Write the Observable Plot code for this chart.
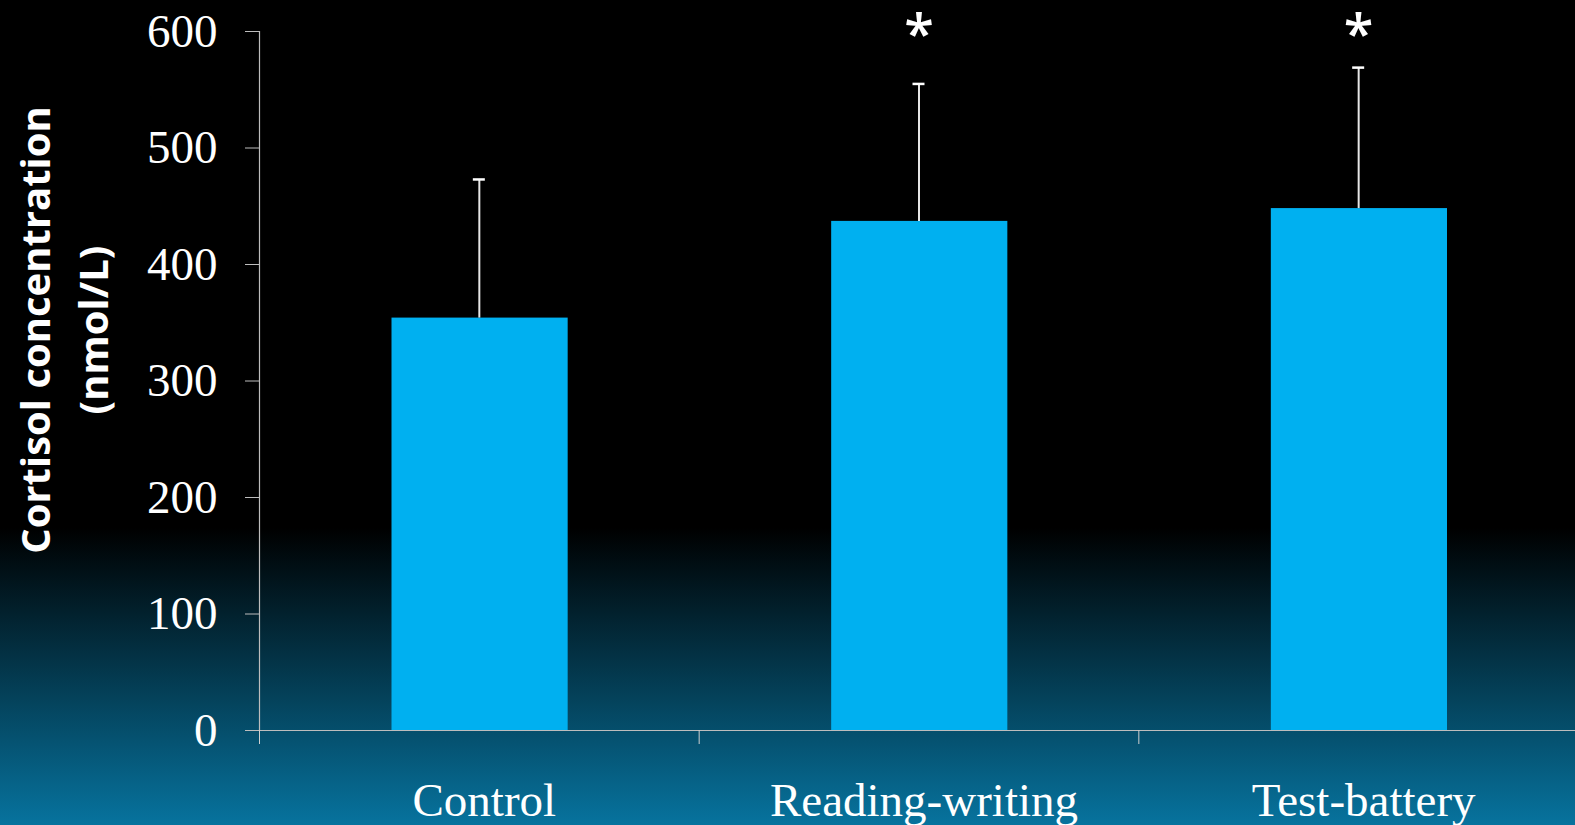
<!DOCTYPE html>
<html>
<head>
<meta charset="utf-8">
<script src="https://cdn.jsdelivr.net/npm/d3@7"></script>
<script src="https://cdn.jsdelivr.net/npm/@observablehq/plot@0.6"></script>
<style>
  html, body { margin: 0; padding: 0; overflow: hidden; }
  body {
    width: 1575px; height: 825px;
    background: linear-gradient(to bottom, #000000 0%, #000000 64%, #07739e 100%);
  }
  #chart svg { display: block; }
</style>
</head>
<body>
<div id="chart"></div>
<script>
// Data
const categories = ["Control", "Reading-writing", "Test-battery"];
const means = [354, 437, 448];
const sds = [119, 118, 121];
const significance = ["", "*", "*"];
const yTicks = [0, 100, 200, 300, 400, 500, 600];
const yTitle = "Cortisol concentration\n(nmol/L)";

const data = categories.map((c, i) => ({
  category: c,
  index: i,
  mean: means[i],
  upper: means[i] + sds[i],
  sig: significance[i]
}));

const serif = "'Liberation Serif', 'Times New Roman', serif";

const chart = Plot.plot({
  width: 1575,
  height: 825,
  marginLeft: 259,
  marginRight: -3,
  marginTop: 31,
  marginBottom: 95,
  style: { background: "transparent", color: "white", overflow: "visible" },
  x: { domain: [0, categories.length], axis: null },
  y: { domain: [0, 600], axis: null },
  marks: [
    // bars
    Plot.rectY(data, {
      x1: d => d.index, x2: d => d.index + 1, y: "mean",
      insetLeft: 132.5, insetRight: 131, fill: "#00b0f0"
    }),
    // error bar stems
    Plot.ruleX(data, {
      x: d => d.index + 0.5, y1: "mean", y2: "upper",
      stroke: "#e6e6e6", strokeWidth: 2
    }),
    // error bar caps
    Plot.ruleY(data, {
      x1: d => d.index + 0.5, x2: d => d.index + 0.5, y: "upper",
      insetLeft: -6, insetRight: -6, stroke: "white", strokeWidth: 2.5
    }),
    // axes lines
    Plot.ruleX([0], { stroke: "#bdbdbd", strokeWidth: 1.2 }),
    Plot.ruleY([0], { stroke: "#bdbdbd", strokeWidth: 1.2 }),
    Plot.axisY({
      ticks: yTicks, tickSize: 14, tickPadding: 28,
      tickFormat: d => String(d),
      stroke: "#bdbdbd", color: "white",
      fontSize: 47, fontFamily: serif, label: null
    }),
    Plot.axisX({
      ticks: d3.range(categories.length + 1), tickSize: 14,
      tickFormat: () => "", stroke: "#d0d0d0", label: null
    }),
    // category labels
    Plot.text(data, {
      x: d => d.index + 0.5, y: 0, text: "category",
      lineAnchor: "bottom", dy: 85.5, dx: 5,
      fill: "white", fontSize: 47, fontFamily: serif
    }),
    // significance markers
    Plot.text(data, {
      x: d => d.index + 0.5, frameAnchor: "top", text: "sig",
      lineAnchor: "bottom", dy: 21,
      fill: "white", fontSize: 54, fontWeight: 600,
      fontFamily: "'Open Sans', sans-serif"
    }),
    // y-axis title
    Plot.text([yTitle], {
      frameAnchor: "left", rotate: -90, dx: -199, dy: -51,
      lineAnchor: "middle", textAnchor: "middle", lineHeight: 1.45,
      fill: "white", fontSize: 40, fontWeight: "bold",
      fontFamily: "'Open Sans', sans-serif"
    })
  ]
});

document.getElementById("chart").appendChild(chart);
</script>
</body>
</html>
